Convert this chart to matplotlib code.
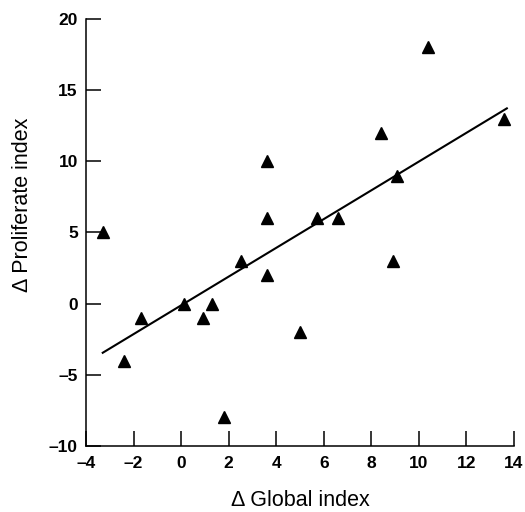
import numpy as np
import matplotlib
matplotlib.use("Agg")
import matplotlib.pyplot as plt

# valeurs
global_idx = [-3.3, -2.4, -1.7, 0.1, 0.9, 1.3, 1.8, 2.5, 3.6, 3.6,
              3.6, 5.0, 5.7, 6.6, 8.4, 8.9, 9.1, 10.4, 13.6]
prolif_idx = [5, -4, -1, 0, -1, 0, -8, 3, 2, 6,
              10, -2, 6, 6, 12, 3, 9, 18, 13]

# droite de regression (pente, ordonnee) et etendue en x
fit_slope = 1.01
fit_intercept = -0.12
fit_x = [-3.3, 13.7]

x_ticks = [-4, -2, 0, 2, 4, 6, 8, 10, 12, 14]
y_ticks = [-10, -5, 0, 5, 10, 15, 20]

plt.rcParams['font.family'] = ['Liberation Sans', 'DejaVu Sans']

fig = plt.figure(figsize=(5.25, 5.12), dpi=100)
ax = fig.add_axes([0.164, 0.129, 0.815, 0.834])

ax.plot(global_idx, prolif_idx, linestyle='none', marker='^', markersize=8,
        color='black', clip_on=False, zorder=3)
line_y = [fit_slope * x + fit_intercept for x in fit_x]
ax.plot(fit_x, line_y, color='black', linewidth=1.5, clip_on=False)

ax.set_xlim(-4, 14)
ax.set_ylim(-10, 20)
ax.set_xticks(x_ticks)
ax.set_yticks(y_ticks)
ax.set_xticklabels([str(t).replace('-', '\u2013') for t in x_ticks])
ax.set_yticklabels([str(t).replace('-', '\u2013') for t in y_ticks])
for lab in ax.get_xticklabels() + ax.get_yticklabels():
    lab.set_fontweight('bold')

for side in ['top', 'right']:
    ax.spines[side].set_visible(False)
for side in ['left', 'bottom']:
    ax.spines[side].set_linewidth(1.1)

ax.tick_params(direction='in', length=10.5, width=1.1, labelsize=12.5)
ax.tick_params(axis='x', pad=7)
ax.tick_params(axis='y', pad=6)

ax.set_xlabel('\u0394 Global index', fontsize=15.5)
ax.set_ylabel('\u0394 Proliferate index', fontsize=15.5)
ax.xaxis.label.set_va('baseline')
ax.xaxis.set_label_coords(0.5, -0.141)
ax.yaxis.set_label_coords(-0.124, 0.564)

fig.savefig('out.png', dpi=100)
